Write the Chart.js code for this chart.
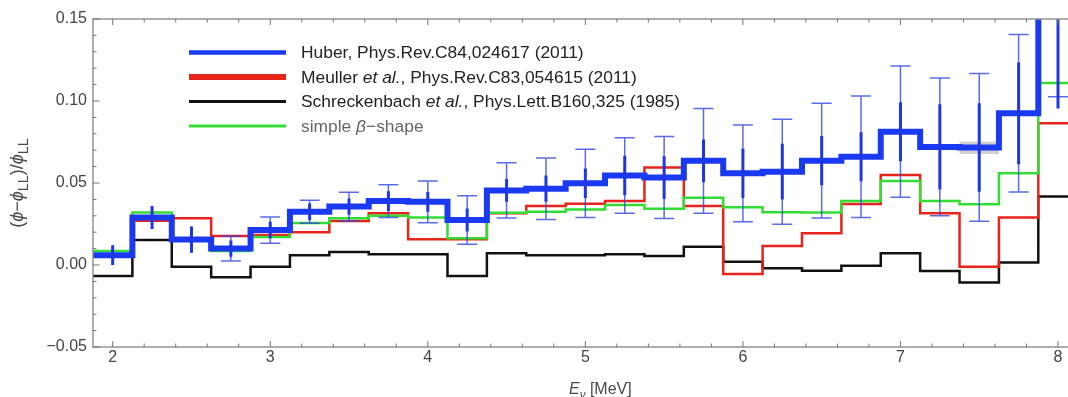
<!DOCTYPE html>
<html>
<head>
<meta charset="utf-8">
<script src="https://cdn.jsdelivr.net/npm/chart.js@4"></script>
<style>
  html, body { margin: 0; padding: 0; background: #fff; overflow: hidden; }
  #wrap { width: 1068px; height: 397px; overflow: hidden; }
  canvas { display: block; }
</style>
</head>
<body>
<div id="wrap"><canvas id="c" width="1080" height="397"></canvas></div>
<script>
// Antineutrino energy bins (MeV), 0.25 MeV wide
const binCenters = [2.0, 2.25, 2.5, 2.75, 3.0, 3.25, 3.5, 3.75, 4.0, 4.25, 4.5, 4.75, 5.0,
                    5.25, 5.5, 5.75, 6.0, 6.25, 6.5, 6.75, 7.0, 7.25, 7.5, 7.75, 8.0];
const binWidth = 0.25;

// Relative deviation (phi - phi_LL)/phi_LL per bin
const huber = [0.006, 0.029, 0.0155, 0.010, 0.0213, 0.0325, 0.0356, 0.039, 0.0385, 0.0274,
               0.0455, 0.0465, 0.0498, 0.0546, 0.0533, 0.0635, 0.0559, 0.0569, 0.0636, 0.066,
               0.0813, 0.072, 0.0717, 0.0925, 0.165];
const meuller = [0.005, 0.027, 0.0285, 0.0177, 0.0183, 0.020, 0.0268, 0.0315, 0.0157, 0.0157,
                 0.0315, 0.036, 0.0374, 0.039, 0.0595, 0.036, -0.0055, 0.0116, 0.0193, 0.0372,
                 0.0549, 0.0315, -0.001, 0.029, 0.0864];
const schreckenbach = [-0.0067, 0.0152, -0.001, -0.0075, -0.001, 0.006, 0.008, 0.0065, 0.0065, -0.0067,
                       0.0071, 0.006, 0.006, 0.0065, 0.0055, 0.0112, 0.002, -0.002, -0.0035, -0.0004,
                       0.0071, -0.0037, -0.0106, 0.0016, 0.0417];
const betaShape = [0.0085, 0.032, 0.016, 0.0085, 0.017, 0.0256, 0.0285, 0.030, 0.0289, 0.0163,
                   0.0319, 0.0325, 0.0338, 0.0366, 0.0343, 0.041, 0.0352, 0.0321, 0.032, 0.039,
                   0.0512, 0.039, 0.037, 0.056, 0.111];

// Huber uncertainties: total (thin, capped) and inner (thick segment)
const huberTot = [0.006, 0.007, 0.008, 0.0075, 0.008, 0.007, 0.0087, 0.010, 0.0127, 0.0148,
                  0.0168, 0.0188, 0.0208, 0.023, 0.025, 0.032, 0.0295, 0.032, 0.035, 0.037,
                  0.040, 0.042, 0.045, 0.048, 0.0624];
const huberInner = [0.006, 0.007, 0.008, 0.005, 0.005, 0.005, 0.005, 0.006, 0.006, 0.007,
                    0.007, 0.008, 0.009, 0.012, 0.013, 0.013, 0.015, 0.017, 0.015, 0.015,
                    0.018, 0.026, 0.027, 0.031, 0.0695];

// Grey band behind the Huber histogram
const bandCenters = [7.5];
const bandLow = [0.0677];
const bandHigh = [0.0752];

// Axis ticks
const xTicks = [2, 3, 4, 5, 6, 7, 8];
const yTicks = [-0.05, 0.00, 0.05, 0.10, 0.15];
const yTickLabels = ['\u22120.05', '0.00', '0.05', '0.10', '0.15'];

const legendItems = [
  { color: '#1a3af2', width: 4.5, parts: [{ t: 'Huber, Phys.Rev.C84,024617 (2011)' }] },
  { color: '#e8231a', width: 6, parts: [{ t: 'Meuller ' }, { t: 'et al.', i: true }, { t: ', Phys.Rev.C83,054615 (2011)' }] },
  { color: '#111111', width: 3, parts: [{ t: 'Schreckenbach ' }, { t: 'et al.', i: true }, { t: ', Phys.Lett.B160,325 (1985)' }] },
  { color: '#33dd33', width: 3, textColor: '#666', parts: [{ t: 'simple ' }, { t: '\u03b2', i: true }, { t: '\u2212shape' }] }
];

const FONT = '"Liberation Sans", Arial, Helvetica, sans-serif';

// Histogram outline: one point per left bin edge plus the final right edge
function stepPoints(values) {
  const pts = binCenters.map((c, i) => ({ x: c - binWidth / 2, y: values[i] }));
  const last = binCenters.length - 1;
  pts.push({ x: binCenters[last] + binWidth / 2, y: values[last] });
  return pts;
}

function stepSet(values, color, width) {
  return {
    data: stepPoints(values),
    borderColor: color,
    borderWidth: width,
    stepped: 'before',
    pointRadius: 0,
    fill: false,
    clip: 0
  };
}

function richWidth(ctx, parts, size, subScale) {
  let w = 0;
  for (const p of parts) {
    const s = p.sub ? size * (subScale || 0.72) : size;
    ctx.font = (p.i ? 'italic ' : '') + s + 'px ' + FONT;
    w += ctx.measureText(p.t).width;
  }
  return w;
}

function drawRich(ctx, parts, x, y, size, subScale) {
  let cx = x;
  for (const p of parts) {
    const s = p.sub ? size * (subScale || 0.72) : size;
    ctx.font = (p.i ? 'italic ' : '') + s + 'px ' + FONT;
    ctx.fillText(p.t, cx, p.sub ? y + size * 0.28 : y);
    cx += ctx.measureText(p.t).width;
  }
}

const framePlugin = {
  id: 'frame',
  beforeDatasetsDraw(chart) {
    const { ctx, scales: { x, y } } = chart;
    ctx.save();
    ctx.fillStyle = 'rgba(150,150,150,0.45)';
    bandCenters.forEach((c, i) => {
      const x0 = x.getPixelForValue(c - binWidth / 2);
      const x1 = x.getPixelForValue(c + binWidth / 2);
      const y0 = y.getPixelForValue(bandHigh[i]);
      const y1 = y.getPixelForValue(bandLow[i]);
      ctx.fillRect(x0, y0, x1 - x0, y1 - y0);
    });
    ctx.restore();
  },
  afterDatasetsDraw(chart) {
    const { ctx, chartArea: a, scales: { x, y } } = chart;
    ctx.save();
    ctx.beginPath();
    ctx.rect(a.left, a.top, a.right - a.left, a.bottom - a.top);
    ctx.clip();
    binCenters.forEach((c, i) => {
      const px = x.getPixelForValue(c);
      const v = huber[i];
      const tHi = y.getPixelForValue(v + huberTot[i]);
      const tLo = y.getPixelForValue(v - huberTot[i]);
      const iHi = y.getPixelForValue(v + huberInner[i]);
      const iLo = y.getPixelForValue(v - huberInner[i]);
      ctx.strokeStyle = 'rgba(50,70,225,0.8)';
      ctx.lineWidth = 1.5;
      ctx.beginPath();
      ctx.moveTo(px, tHi); ctx.lineTo(px, tLo);
      if (huberTot[i] !== huberInner[i]) {
        ctx.moveTo(px - 10, tHi); ctx.lineTo(px + 10, tHi);
        ctx.moveTo(px - 10, tLo); ctx.lineTo(px + 10, tLo);
      }
      ctx.stroke();
      ctx.strokeStyle = '#2036e0';
      ctx.lineWidth = 3;
      ctx.beginPath();
      ctx.moveTo(px, iHi); ctx.lineTo(px, iLo);
      ctx.stroke();
    });
    ctx.restore();
  },
  afterDraw(chart) {
    const { ctx, chartArea: a, scales: { x, y } } = chart;
    ctx.save();
    // frame
    ctx.strokeStyle = '#8c8c8c';
    ctx.lineWidth = 1.4;
    ctx.strokeRect(a.left, a.top, a.right - a.left, a.bottom - a.top);

    // inward ticks on all four sides
    ctx.lineWidth = 1;
    ctx.strokeStyle = '#777';
    ctx.beginPath();
    for (let k = 0; k <= 35; k++) {
      const v = 1.8 + k * 0.2;
      if (v < x.min - 1e-9 || v > x.max + 1e-9) continue;
      const major = Math.abs(v - Math.round(v)) < 1e-6;
      const len = major ? 6 : 3.5;
      const px = x.getPixelForValue(v);
      ctx.moveTo(px, a.bottom); ctx.lineTo(px, a.bottom - len);
      ctx.moveTo(px, a.top); ctx.lineTo(px, a.top + len);
    }
    for (let k = 0; k <= 20; k++) {
      const v = -0.05 + k * 0.01;
      const major = k % 5 === 0;
      const len = major ? 6.5 : 3.5;
      const py = y.getPixelForValue(v);
      ctx.moveTo(a.left, py); ctx.lineTo(a.left + len, py);
      ctx.moveTo(a.right, py); ctx.lineTo(a.right - len, py);
    }
    ctx.stroke();

    // tick labels
    ctx.fillStyle = '#444';
    ctx.font = '16px ' + FONT;
    ctx.textAlign = 'center';
    ctx.textBaseline = 'middle';
    xTicks.forEach(v => ctx.fillText(String(v), x.getPixelForValue(v), a.bottom + 11));
    ctx.textAlign = 'right';
    yTicks.forEach((v, i) => ctx.fillText(yTickLabels[i], a.left - 6, y.getPixelForValue(v)));

    // axis titles
    ctx.fillStyle = '#4a4a4a';
    ctx.textAlign = 'left';
    ctx.textBaseline = 'alphabetic';
    const xt = [{ t: 'E', i: true }, { t: '\u03bd', i: true, sub: true }, { t: ' [MeV]' }];
    drawRich(ctx, xt, 569, 394, 16);

    const yt = [{ t: '(' }, { t: '\u03d5', i: true }, { t: '\u2212' }, { t: '\u03d5', i: true },
                { t: 'LL', sub: true }, { t: ')/' }, { t: '\u03d5', i: true }, { t: 'LL', sub: true }];
    ctx.translate(23, (a.top + a.bottom) / 2);
    ctx.rotate(-Math.PI / 2);
    const yw = richWidth(ctx, yt, 18, 0.8);
    drawRich(ctx, yt, -yw / 2, 0, 18, 0.8);
    ctx.setTransform(1, 0, 0, 1, 0, 0);

    // legend
    ctx.textBaseline = 'middle';
    legendItems.forEach((it, i) => {
      const ly = 52.5 + i * 24.5;
      ctx.strokeStyle = it.color;
      ctx.lineWidth = it.width;
      ctx.beginPath();
      ctx.moveTo(189, ly); ctx.lineTo(286, ly);
      ctx.stroke();
      ctx.fillStyle = it.textColor || '#222';
      drawRich(ctx, it.parts, 301, ly + 1, 17.4);
    });
    ctx.restore();
  }
};

new Chart(document.getElementById('c'), {
  type: 'line',
  data: {
    datasets: [
      stepSet(huber, '#1a3af2', 6),
      stepSet(betaShape, '#33dd33', 2.5),
      stepSet(meuller, '#e8231a', 2.5),
      stepSet(schreckenbach, '#111111', 2.5)
    ]
  },
  options: {
    responsive: false,
    animation: false,
    devicePixelRatio: 1,
    layout: { padding: { left: 93, top: 19, right: 2.3, bottom: 50 } },
    plugins: { legend: { display: false }, tooltip: { enabled: false } },
    scales: {
      x: { type: 'linear', min: 1.875, max: 8.125, display: false },
      y: { type: 'linear', min: -0.05, max: 0.15, display: false }
    }
  },
  plugins: [framePlugin]
});
</script>
</body>
</html>
